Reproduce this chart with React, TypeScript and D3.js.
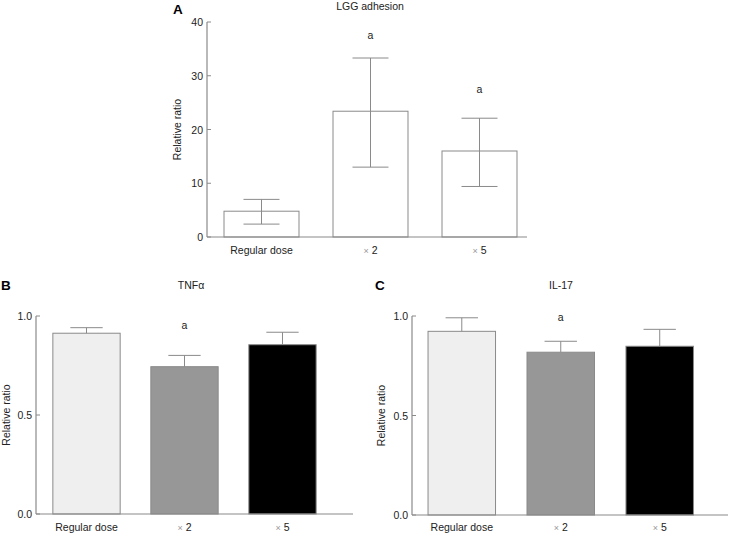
import React from "react";
import * as d3 from "d3";

const categories = ["Regular dose", "× 2", "× 5"];

// Panel A: LGG adhesion
const lggMeans = [4.8, 23.4, 16.0];
const lggLower = [2.4, 13.0, 9.4];
const lggUpper = [7.0, 33.3, 22.1];
const lggSig = ["", "a", "a"];
const lggSigY = [0, 37.4, 27.5];
const lggTicks = [0, 10, 20, 30, 40];

// Panel B: TNFα
const tnfMeans = [0.913, 0.744, 0.855];
const tnfUpper = [0.941, 0.801, 0.918];
const tnfSig = ["", "a", ""];
const tnfSigY = [0, 0.95, 0];

// Panel C: IL-17
const il17Means = [0.923, 0.818, 0.848];
const il17Upper = [0.991, 0.873, 0.933];
const il17Sig = ["", "a", ""];
const il17SigY = [0, 0.99, 0];

const ratioTicks = [0.0, 0.5, 1.0];
const ratioTickLabels = ["0.0", "0.5", "1.0"];

const FONT = "'Liberation Sans', Arial, sans-serif";
const AXIS = "#8a8a8a";

type PanelProps = {
  letter: string;
  letterX: number;
  letterY: number;
  title: string;
  titleX: number;
  titleY: number;
  axisX: number;
  axisEnd: number;
  yTop: number;
  yBottom: number;
  yMax: number;
  ticks: number[];
  tickLabels: string[];
  bandEnd: number;
  paddingInner: number;
  paddingOuter: number;
  means: number[];
  upper: number[];
  lower?: number[];
  fills: string[];
  stroke: string;
  sig: string[];
  sigY: number[];
  yLabelX: number;
  xLabelY: number;
};

function Panel(p: PanelProps) {
  const y = d3.scaleLinear().domain([0, p.yMax]).range([p.yBottom, p.yTop]);
  const x = d3
    .scaleBand<string>()
    .domain(categories)
    .range([p.axisX, p.bandEnd])
    .paddingInner(p.paddingInner)
    .paddingOuter(p.paddingOuter);
  const bw = x.bandwidth();
  const cap = bw * 0.48;
  return (
    <g>
      <text x={p.letterX} y={p.letterY} fontFamily={FONT} fontWeight="bold" fontSize={13.5} fill="#000">
        {p.letter}
      </text>
      <text x={p.titleX} y={p.titleY} textAnchor="middle" fontFamily={FONT} fontSize={10.5} fill="#222">
        {p.title}
      </text>
      <text
        transform={`translate(${p.yLabelX},${(p.yTop + p.yBottom) / 2}) rotate(-90)`}
        textAnchor="middle"
        dominantBaseline="middle"
        fontFamily={FONT}
        fontSize={10.5}
        fill="#222"
      >
        Relative ratio
      </text>
      {/* bars */}
      {categories.map((c, i) => (
        <rect
          key={"b" + i}
          x={x(c)!}
          y={y(p.means[i])}
          width={bw}
          height={y(0) - y(p.means[i])}
          fill={p.fills[i]}
          stroke={p.stroke}
          strokeWidth={1}
        />
      ))}
      {/* error bars */}
      {categories.map((c, i) => {
        const cx = x(c)! + bw / 2;
        const lo = p.lower ? p.lower[i] : p.means[i];
        return (
          <g key={"e" + i} stroke={AXIS} strokeWidth={1} fill="none">
            <line x1={cx} x2={cx} y1={y(lo)} y2={y(p.upper[i])} />
            <line x1={cx - cap / 2} x2={cx + cap / 2} y1={y(p.upper[i])} y2={y(p.upper[i])} />
            {p.lower && (
              <line x1={cx - cap / 2} x2={cx + cap / 2} y1={y(lo)} y2={y(lo)} />
            )}
          </g>
        );
      })}
      {/* significance */}
      {categories.map((c, i) =>
        p.sig[i] ? (
          <text
            key={"s" + i}
            x={x(c)! + bw / 2}
            y={y(p.sigY[i]) + 3.5}
            textAnchor="middle"
            fontFamily={FONT}
            fontSize={10.5}
            fill="#222"
          >
            {p.sig[i]}
          </text>
        ) : null
      )}
      {/* axes */}
      <line x1={p.axisX} x2={p.axisX} y1={y(p.yMax)} y2={y(0)} stroke={AXIS} strokeWidth={1.2} />
      <line x1={p.axisX} x2={p.axisEnd} y1={y(0)} y2={y(0)} stroke={AXIS} strokeWidth={1.2} />
      {p.ticks.map((t, i) => (
        <g key={"t" + i}>
          <line x1={p.axisX} x2={p.axisX + 4} y1={y(t)} y2={y(t)} stroke={AXIS} strokeWidth={1} />
          <text
            x={p.axisX - 4}
            y={y(t) + 4}
            textAnchor="end"
            fontFamily={FONT}
            fontSize={10.5}
            fill="#222"
          >
            {p.tickLabels[i]}
          </text>
        </g>
      ))}
      {categories.map((c, i) => {
        const parts = c.split(" ");
        const isTimes = parts[0] === "×";
        return (
          <text
            key={"x" + i}
            x={x(c)! + bw / 2}
            y={p.xLabelY}
            textAnchor="middle"
            fontFamily={FONT}
            fontSize={10.5}
            fill="#222"
          >
            {isTimes ? (
              <>
                <tspan fill="#999" fontSize={9}>×</tspan>
                <tspan> {parts[1]}</tspan>
              </>
            ) : (
              c
            )}
          </text>
        );
      })}
    </g>
  );
}

export default function App() {
  return (
    <svg
      width={729}
      height={535}
      style={{ position: "absolute", left: 0, top: 0, background: "#fff" }}
    >
      <rect width={729} height={535} fill="#fff" />
      <Panel
        letter="A"
        letterX={173}
        letterY={14}
        title="LGG adhesion"
        titleX={370}
        titleY={10}
        axisX={207}
        axisEnd={527}
        yTop={22}
        yBottom={237}
        yMax={40}
        ticks={lggTicks}
        tickLabels={lggTicks.map(String)}
        bandEnd={534}
        paddingInner={0.312}
        paddingOuter={0.156}
        means={lggMeans}
        upper={lggUpper}
        lower={lggLower}
        fills={["#fff", "#fff", "#fff"]}
        stroke={AXIS}
        sig={lggSig}
        sigY={lggSigY}
        yLabelX={178}
        xLabelY={254}
      />
      <Panel
        letter="B"
        letterX={1}
        letterY={290}
        title="TNFα"
        titleX={191}
        titleY={289}
        axisX={36}
        axisEnd={353}
        yTop={316}
        yBottom={514}
        yMax={1.0}
        ticks={ratioTicks}
        tickLabels={ratioTickLabels}
        bandEnd={333}
        paddingInner={0.313}
        paddingOuter={0.172}
        means={tnfMeans}
        upper={tnfUpper}
        fills={["#eeefee", "#979797", "#000"]}
        stroke={AXIS}
        sig={tnfSig}
        sigY={tnfSigY}
        yLabelX={7}
        xLabelY={531}
      />
      <Panel
        letter="C"
        letterX={375}
        letterY={290}
        title="IL-17"
        titleX={561}
        titleY={289}
        axisX={412}
        axisEnd={728}
        yTop={316}
        yBottom={515}
        yMax={1.0}
        ticks={ratioTicks}
        tickLabels={ratioTickLabels}
        bandEnd={709.5}
        paddingInner={0.318}
        paddingOuter={0.162}
        means={il17Means}
        upper={il17Upper}
        fills={["#eeefee", "#979797", "#000"]}
        stroke={AXIS}
        sig={il17Sig}
        sigY={il17SigY}
        yLabelX={382}
        xLabelY={531}
      />
    </svg>
  );
}
